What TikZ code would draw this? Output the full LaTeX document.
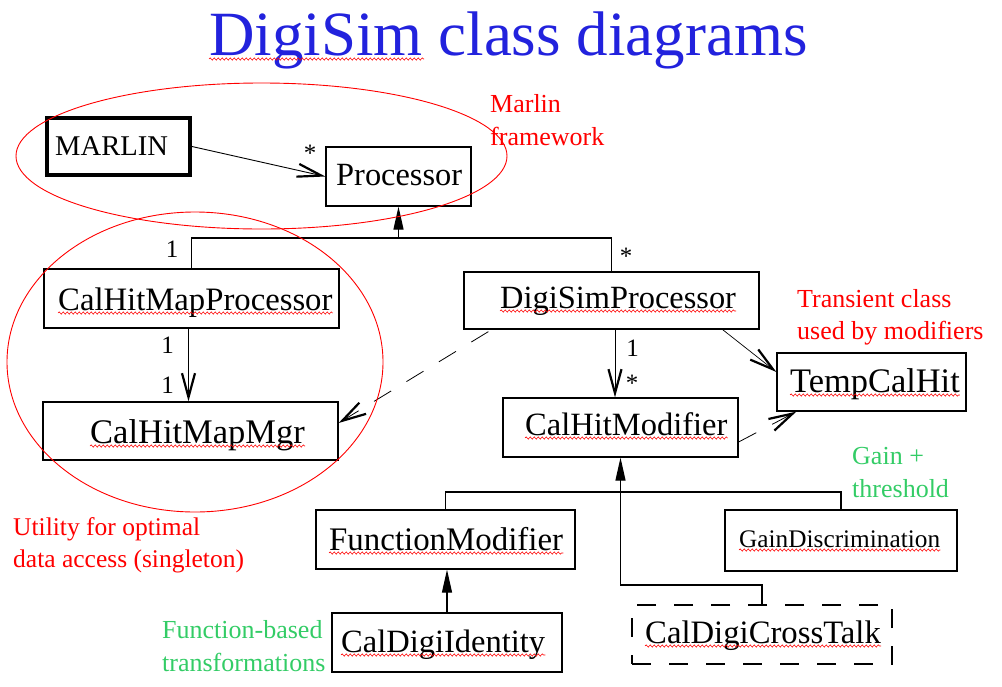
\documentclass[tikz,border=0pt]{standalone}
\usepackage{fontspec}
\setmainfont{Liberation Serif}
\usetikzlibrary{arrows.meta,decorations.pathmorphing,fit,calc}
\definecolor{ttlblue}{RGB}{34,34,221}
\definecolor{anngreen}{RGB}{51,204,102}
\definecolor{annred}{RGB}{255,0,0}
\newcommand\myfs[1]{\fontsize{#1}{#1}\selectfont}
\begin{document}
\begin{tikzpicture}[x=1pt,y=-1pt,
  cbox/.style={draw, line width=1.2pt, inner sep=0pt},
  ctext/.style={anchor=base west, inner sep=0pt, font=\myfs{32.5}},
  ann/.style={anchor=base west, inner sep=0pt, font=\myfs{26}},
  mult/.style={anchor=base, inner sep=0pt, font=\myfs{25}},
  squig/.style={draw=annred, line width=0.6pt, decorate,
    decoration={snake, amplitude=1.1pt, segment length=4pt}},
  ell/.style={draw=annred, line width=0.9pt},
  vhead/.tip={Straight Barb[length=24pt, width=13pt, line width=2.2pt 0]},
  assoc/.style={line width=0.9pt, -vhead},
  dep/.style={line width=0.8pt, dash pattern=on 20pt off 18pt, -vhead},
  gen/.style={line width=1.2pt, -{Triangle[length=23pt, width=10pt]}},
  genline/.style={line width=1.2pt}]
\useasboundingbox (0,0) rectangle (1002,686);

% title
\node[anchor=base west, inner sep=0pt, font=\myfs{63}, text=ttlblue] (title) at (209,55) {DigiSim class diagrams};
\draw[squig] ([yshift=-4pt]title.base west) -- ++(215,0);

% class boxes
\node[cbox, line width=4pt, fit={(47,118) (190,175)}] (marlin) {};
\node[ctext, font=\myfs{28.6}] (marlin-t) at (55,155) {MARLIN};

\node[cbox, fit={(326,147) (471,206)}] (proc) {};
\node[ctext, font=\myfs{32.4}] (proc-t) at (336,185) {Processor};

\node[cbox, fit={(44,269) (339,328)}] (chmp) {};
\node[ctext, font=\myfs{32.7}] (chmp-t) at (58,310) {CalHitMapProcessor};

\node[cbox, fit={(43,402) (338,460)}] (chmm) {};
\node[ctext, font=\myfs{34.5}] (chmm-t) at (90,443) {CalHitMapMgr};

\node[cbox, fit={(464,272) (759,329)}] (dsp) {};
\node[ctext, font=\myfs{32.4}] (dsp-t) at (500,308) {DigiSimProcessor};

\node[cbox, fit={(503,398) (738,457)}] (chm) {};
\node[ctext] (chm-t) at (525,435) {CalHitModifier};

\node[cbox, fit={(777,353) (966,411)}] (tch) {};
\node[ctext, font=\myfs{34.4}] (tch-t) at (790,392) {TempCalHit};

\node[cbox, fit={(316,510) (575,569)}] (fm) {};
\node[ctext, font=\myfs{32.9}] (fm-t) at (329,550) {FunctionModifier};

\node[cbox, fit={(725,510) (957,571)}] (gd) {};
\node[ctext, font=\myfs{25.3}] (gd-t) at (739,547) {GainDiscrimination};

\node[cbox, fit={(332,613) (562,672)}] (cdi) {};
\node[ctext] (cdi-t) at (341,652) {CalDigiIdentity};

\node[cbox, dash pattern=on 19pt off 18pt, fit={(632,605) (892,664)}] (cdct) {};
\node[ctext, font=\myfs{32.7}] (cdct-t) at (645,643) {CalDigiCrossTalk};

% spell-check squiggles
\foreach \t in {chmp-t,chmm-t,dsp-t,chm-t,tch-t,fm-t,gd-t,cdi-t,cdct-t}
  \draw[squig] ([yshift=-3pt]\t.base west) -- ([yshift=-3pt]\t.base east);

% generalizations
\coordinate (j1) at (398.5,238);
\draw[gen] (j1) -- (proc.south);
\draw[genline] (chmp.north) |- (j1) -| (dsp.north);
\coordinate (j2) at (620.5,492);
\coordinate (j3) at (620.5,585);
\draw[gen] (cdct.north) |- (j3) -- (chm.south);
\draw[genline] (fm.north) |- (j2) -| (gd.north);
\draw[gen] (cdi.north) -- (cdi.north |- fm.south);

% associations
\draw[assoc] (marlin.east) -- (proc.west);
\draw[assoc] ([xshift=-3pt]chmp.south) -- ([xshift=-3pt]chmp.south |- chmm.north);
\coordinate (a1) at (615,0);
\draw[assoc] (dsp.south -| a1) -- (chm.north -| a1);
\draw[assoc, line width=0.7pt] ([xshift=-37pt]dsp.south east) -- ([yshift=10pt]tch.west);
\draw[dep] ([xshift=25pt,yshift=-2pt]dsp.south west) -- ([yshift=8pt]chmm.east);
\draw[dep] ([yshift=-14.5pt]chm.east) -- ([xshift=20pt]tch.south west);

% multiplicities
\node[mult] (m1) at (310,161) {*};
\node[mult] (m2) at (172,257) {1};
\node[mult] (m3) at (626,264) {*};
\node[mult] (m4) at (167.5,353) {1};
\node[mult] (m5) at (167.5,393) {1};
\node[mult] (m6) at (632.5,356) {1};
\node[mult] (m7) at (632,391) {*};

% ellipses
\draw[ell] (261.5,156) ellipse [x radius=245.5pt, y radius=73pt];
\draw[ell] (195,362) ellipse [x radius=188pt, y radius=150pt];

% annotations
\node[ann, text=annred] (n1a) at (490,112) {Marlin};
\node[ann, text=annred] (n1b) at (490,145) {framework};
\node[ann, text=annred] (n2a) at (797,307) {Transient class};
\node[ann, text=annred] (n2b) at (797,339) {used by modifiers};
\node[ann, text=annred, font=\myfs{25.5}] (n3a) at (13,535) {Utility for optimal};
\node[ann, text=annred, font=\myfs{25.5}] (n3b) at (13,567) {data access (singleton)};
\node[ann, text=anngreen] (n4a) at (852,464) {Gain +};
\node[ann, text=anngreen] (n4b) at (852,497) {threshold};
\node[ann, text=anngreen] (n5a) at (162,638) {Function-based};
\node[ann, text=anngreen] (n5b) at (162,671) {transformations};
\end{tikzpicture}
\end{document}
